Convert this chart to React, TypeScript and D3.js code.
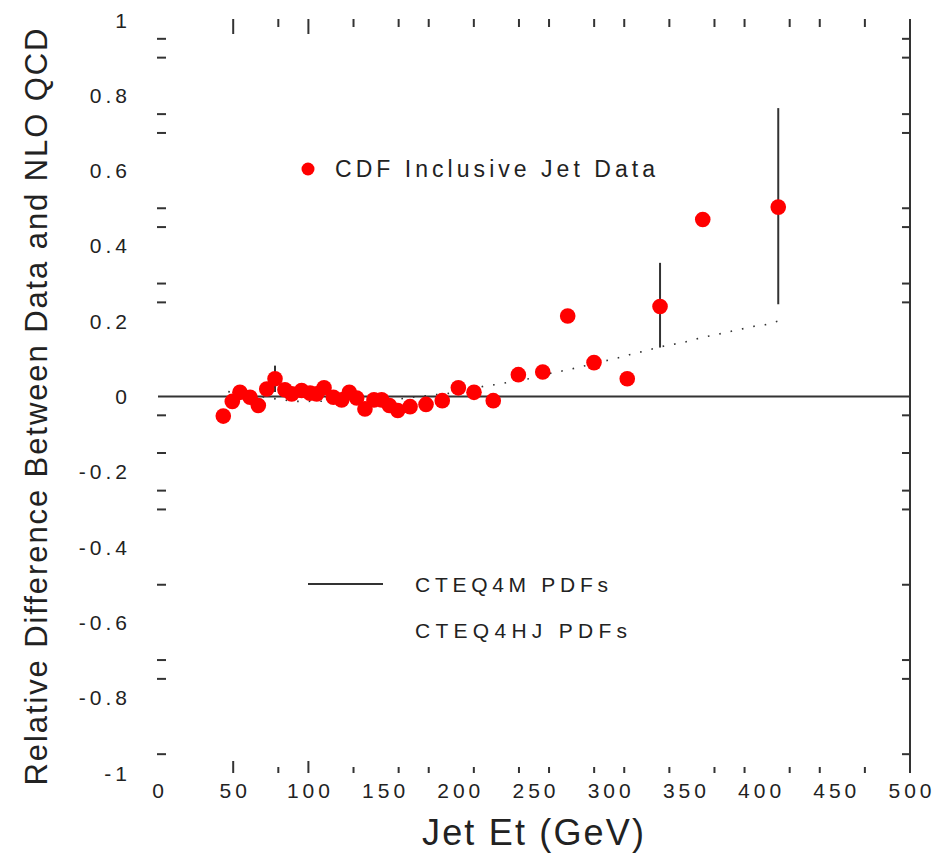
import React from "react";
import * as d3 from "d3";

// ---- data ----
const dataEt = [43.4, 49.4, 54.5, 61.2, 66.7, 72.3, 77.8, 84.4, 88.9, 95.5, 101.1, 105.5, 110.4, 116.6, 122.1, 127.2, 132.1, 137.6, 143.6, 148.7, 153.8, 159.4, 167.6, 178.2, 189.0, 199.7, 210.1, 222.9, 239.6, 255.8, 272.4, 289.9, 312.0, 333.8, 362.2, 412.4];
const dataDev = [-0.052, -0.013, 0.011, -0.002, -0.024, 0.020, 0.047, 0.018, 0.007, 0.016, 0.009, 0.007, 0.023, -0.002, -0.009, 0.011, -0.004, -0.033, -0.009, -0.009, -0.024, -0.037, -0.027, -0.021, -0.011, 0.023, 0.011, -0.011, 0.058, 0.065, 0.214, 0.090, 0.047, 0.239, 0.470, 0.503];
const errUp = [0, 0, 0, 0, 0, 0, 0.035, 0, 0, 0, 0, 0, 0, 0, 0, 0, 0, 0, 0, 0, 0, 0, 0, 0, 0, 0, 0, 0, 0, 0, 0, 0, 0, 0.116, 0, 0.263];
const errDown = [0, 0, 0, 0, 0, 0, 0.035, 0, 0, 0, 0, 0, 0, 0, 0, 0, 0, 0, 0, 0, 0, 0, 0, 0, 0, 0, 0, 0, 0, 0, 0, 0, 0, 0.109, 0, 0.258];

const theoryEt = [46.7, 52.9, 61.2, 73.1, 82.2, 92.2, 139.6, 144.9, 158.6, 168.5, 182.5, 195.2, 200.8, 216.3, 223.4, 229.6, 235.9, 246.2, 250.7, 258.4, 264.6, 274.4, 278.4, 287.2, 292.4, 301.0, 309.4, 313.4, 322.7, 335.3, 349.7, 358.2, 363.0, 368.8, 383.0, 393.6, 399.1, 404.0, 412.9];
const theoryDev = [0.013, 0.009, 0.004, -0.003, -0.009, -0.013, -0.012, -0.012, -0.008, -0.002, 0.004, 0.009, 0.014, 0.027, 0.031, 0.035, 0.04, 0.047, 0.051, 0.06, 0.064, 0.073, 0.076, 0.085, 0.09, 0.098, 0.106, 0.111, 0.12, 0.133, 0.144, 0.153, 0.158, 0.162, 0.175, 0.184, 0.189, 0.191, 0.201];

const xTickLabels = [0, 50, 100, 150, 200, 250, 300, 350, 400, 450, 500];
const xMajorTicks = [50, 100];
const xMinorTicks = [80, 130, 160, 180, 210, 240, 260, 290, 310, 340, 370, 390, 420, 440, 470];
const yTickLabels = [1, 0.8, 0.6, 0.4, 0.2, 0, -0.2, -0.4, -0.6, -0.8, -1];
const yMinorTicks = [0.95, 0.9, 0.75, 0.7, 0.5, 0.45, 0.3, 0.25, -0.05, -0.15, -0.25, -0.3, -0.5, -0.7, -0.75, -0.95];

const xTitle = "Jet Et (GeV)";
const yTitle = "Relative Difference Between Data and NLO QCD";
const legendData = "CDF Inclusive Jet Data";
const legendLine1 = "CTEQ4M PDFs";
const legendLine2 = "CTEQ4HJ PDFs";

export default function App() {
  const W = 946, H = 858;
  const x = d3.scaleLinear().domain([0, 500]).range([158, 910]);
  const y = d3.scaleLinear().domain([-1, 1]).range([773, 20]);
  const ink = "#222";
  const font = "'Liberation Sans', Arial, sans-serif";
  const theoryLine = d3.line<number>()
    .x((_, i) => x(theoryEt[i]))
    .y((d) => y(d));

  const fmtY = (v: number) => (v === 0 ? "0" : v.toString());

  return (
    <svg width={W} height={H} style={{ position: "absolute", left: 0, top: 0, background: "#fff" }}>
      {/* right axis line */}
      <line x1={x(500)} x2={x(500)} y1={y(1) - 1} y2={y(-1)} stroke="#333" strokeWidth={2} />
      {/* zero line */}
      <line x1={x(0)} x2={x(500)} y1={y(0)} y2={y(0)} stroke="#333" strokeWidth={2} />

      {/* top & bottom ticks */}
      {xMajorTicks.map((t) => (
        <g key={"M" + t}>
          <line x1={x(t)} x2={x(t)} y1={y(1) - 1} y2={y(1) + 14} stroke="#333" strokeWidth={2} />
          <line x1={x(t)} x2={x(t)} y1={y(-1)} y2={y(-1) - 12} stroke="#333" strokeWidth={2} />
        </g>
      ))}
      {xMinorTicks.map((t) => (
        <g key={"m" + t}>
          <line x1={x(t)} x2={x(t)} y1={y(1) - 1} y2={y(1) + 7} stroke="#333" strokeWidth={2} />
          <line x1={x(t)} x2={x(t)} y1={y(-1)} y2={y(-1) - 6} stroke="#333" strokeWidth={2} />
        </g>
      ))}
      {/* left & right ticks */}
      {yMinorTicks.map((t) => (
        <g key={"y" + t}>
          <line x1={x(0) - 1} x2={x(0) + 8} y1={y(t)} y2={y(t)} stroke="#333" strokeWidth={2} />
          <line x1={x(500)} x2={x(500) - 8} y1={y(t)} y2={y(t)} stroke="#333" strokeWidth={2} />
        </g>
      ))}

      {/* tick labels */}
      {xTickLabels.map((t) => (
        <text key={"xl" + t} x={x(t) + 2} y={798} textAnchor="middle" fontFamily={font} fontSize={21} letterSpacing={4} fill={ink}>
          {t}
        </text>
      ))}
      {yTickLabels.map((t) => (
        <text key={"yl" + t} x={131} y={y(t) + 7.5} textAnchor="end" fontFamily={font} fontSize={21} letterSpacing={4} fill={ink}>
          {fmtY(t)}
        </text>
      ))}

      {/* axis titles */}
      <text x={533} y={845} textAnchor="middle" fontFamily={font} fontSize={36} textLength={222} lengthAdjust="spacing" fill={ink}>
        {xTitle}
      </text>
      <text transform="translate(47,407) rotate(-90)" textAnchor="middle" fontFamily={font} fontSize={31} textLength={757} lengthAdjust="spacing" fill={ink}>
        {yTitle}
      </text>

      {/* theory (CTEQ4HJ relative to CTEQ4M) dotted curve */}
      <path d={theoryLine(theoryDev) || ""} fill="none" stroke="#333" strokeWidth={1.6} strokeDasharray="1.6 10" />

      {/* error bars */}
      {dataEt.map((e, i) =>
        errUp[i] > 0 || errDown[i] > 0 ? (
          <line key={"e" + i} x1={x(e)} x2={x(e)} y1={y(dataDev[i] + errUp[i])} y2={y(dataDev[i] - errDown[i])} stroke="#333" strokeWidth={2} />
        ) : null
      )}
      {/* data points */}
      {dataEt.map((e, i) => (
        <circle key={"p" + i} cx={x(e)} cy={y(dataDev[i])} r={7.8} fill="#ff0000" />
      ))}

      {/* legend */}
      <circle cx={308} cy={169} r={6.5} fill="#ff0000" />
      <text x={335} y={177} fontFamily={font} fontSize={23} textLength={320} lengthAdjust="spacing" fill={ink}>
        {legendData}
      </text>
      <line x1={308} x2={383} y1={584} y2={584} stroke="#333" strokeWidth={2} />
      <text x={415} y={592} fontFamily={font} fontSize={21} textLength={193} lengthAdjust="spacing" fill={ink}>
        {legendLine1}
      </text>
      <text x={415} y={638} fontFamily={font} fontSize={21} textLength={212} lengthAdjust="spacing" fill={ink}>
        {legendLine2}
      </text>
    </svg>
  );
}
